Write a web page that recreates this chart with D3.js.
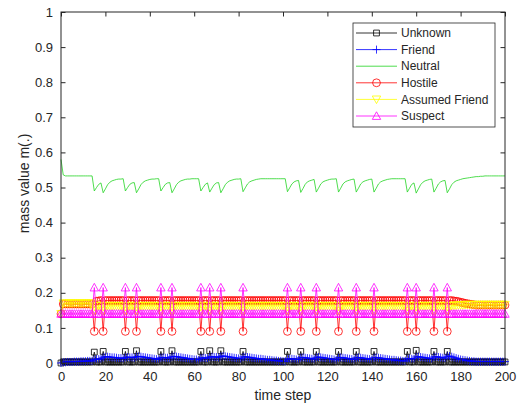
<!DOCTYPE html>
<html><head><meta charset="utf-8">
<script src="https://cdn.jsdelivr.net/npm/d3@7"></script>
<style>
html,body{margin:0;padding:0;background:#fff;}
svg{display:block;}
text{font-family:"Liberation Sans",Arial,Helvetica,sans-serif;fill:#262626;}
</style></head>
<body>
<svg id="chart" width="518" height="407"></svg>
<script>
// ---- data (time steps 0..200) ----
const xTicks = [0,20,40,60,80,100,120,140,160,180,200];
const yTicks = [0,0.1,0.2,0.3,0.4,0.5,0.6,0.7,0.8,0.9,1];
const seriesNames = ["Unknown","Friend","Neutral","Hostile","Assumed Friend","Suspect"];

const unknownVals = [
0,0.003,0.003,0.003,0.003,0.003,0.003,0.003,0.003,0.003,
0.003,0.003,0.003,0.003,0.003,0.031,0.003,0.003,0.003,0.033,
0.003,0.003,0.003,0.003,0.003,0.003,0.003,0.003,0.003,0.033,
0.003,0.003,0.003,0.003,0.035,0.003,0.003,0.003,0.003,0.003,
0.003,0.003,0.003,0.003,0.003,0.033,0.003,0.003,0.003,0.003,
0.035,0.003,0.003,0.003,0.003,0.003,0.003,0.003,0.003,0.003,
0.003,0.003,0.003,0.033,0.003,0.003,0.003,0.035,0.003,0.003,
0.003,0.003,0.035,0.003,0.003,0.003,0.003,0.003,0.003,0.003,
0.003,0.003,0.033,0.003,0.003,0.003,0.003,0.003,0.003,0.003,
0.003,0.003,0.003,0.003,0.003,0.003,0.003,0.003,0.003,0.003,
0.003,0.003,0.033,0.003,0.003,0.003,0.003,0.003,0.033,0.003,
0.003,0.003,0.003,0.003,0.003,0.033,0.003,0.003,0.003,0.003,
0.003,0.003,0.003,0.003,0.003,0.033,0.003,0.003,0.003,0.003,
0.003,0.003,0.003,0.033,0.003,0.003,0.003,0.003,0.003,0.003,
0.003,0.033,0.003,0.003,0.003,0.003,0.003,0.003,0.003,0.003,
0.003,0.003,0.003,0.003,0.003,0.003,0.033,0.003,0.003,0.003,
0.036,0.003,0.003,0.003,0.003,0.003,0.003,0.003,0.033,0.003,
0.003,0.003,0.003,0.003,0.033,0.003,0.003,0.003,0.003,0.003,
0.003,0.003,0.003,0.003,0.003,0.003,0.003,0.003,0.003,0.003,
0.003,0.003,0.003,0.003,0.003,0.003,0.003,0.003,0.003,0.003,
0.003
];

const friendVals = [
0,0.002,0.002,0.003,0.003,0.003,0.004,0.004,0.004,0.005,
0.005,0.005,0.006,0.006,0.006,0.010,0.011,0.011,0.012,0.016,
0.018,0.018,0.017,0.016,0.016,0.015,0.014,0.014,0.013,0.016,
0.017,0.016,0.016,0.015,0.018,0.019,0.018,0.017,0.016,0.015,
0.014,0.013,0.012,0.011,0.011,0.015,0.016,0.015,0.015,0.014,
0.018,0.019,0.018,0.017,0.016,0.015,0.014,0.013,0.012,0.011,
0.010,0.010,0.009,0.014,0.015,0.014,0.014,0.017,0.018,0.017,
0.017,0.016,0.019,0.020,0.019,0.018,0.017,0.016,0.015,0.014,
0.013,0.012,0.017,0.018,0.017,0.016,0.015,0.014,0.013,0.012,
0.012,0.011,0.010,0.009,0.009,0.008,0.007,0.007,0.006,0.006,
0.005,0.005,0.011,0.012,0.012,0.011,0.010,0.010,0.015,0.016,
0.015,0.014,0.013,0.012,0.011,0.016,0.017,0.016,0.015,0.014,
0.013,0.012,0.011,0.010,0.009,0.015,0.016,0.015,0.014,0.013,
0.012,0.011,0.010,0.015,0.016,0.015,0.014,0.013,0.012,0.011,
0.010,0.015,0.016,0.015,0.014,0.013,0.012,0.011,0.010,0.009,
0.009,0.008,0.007,0.007,0.006,0.006,0.012,0.013,0.012,0.012,
0.017,0.018,0.017,0.016,0.015,0.014,0.013,0.012,0.017,0.018,
0.017,0.016,0.015,0.014,0.019,0.020,0.018,0.016,0.014,0.012,
0.010,0.009,0.008,0.007,0.006,0.005,0.005,0.004,0.004,0.004,
0.004,0.004,0.004,0.004,0.004,0.004,0.004,0.004,0.004,0.004,
0.004
];

const neutralVals = [
0.58,0.536,0.533,0.533,0.533,0.533,0.533,0.533,0.533,0.533,
0.533,0.533,0.533,0.533,0.533,0.49,0.5,0.509,0.513,0.485,
0.496,0.508,0.515,0.519,0.521,0.523,0.524,0.524,0.525,0.49,
0.5,0.509,0.513,0.514,0.485,0.496,0.508,0.515,0.519,0.521,
0.523,0.524,0.524,0.525,0.525,0.49,0.5,0.509,0.513,0.514,
0.485,0.496,0.508,0.515,0.519,0.521,0.523,0.524,0.524,0.525,
0.525,0.525,0.525,0.49,0.5,0.509,0.513,0.487,0.498,0.508,
0.513,0.514,0.485,0.496,0.508,0.515,0.519,0.521,0.523,0.524,
0.524,0.525,0.488,0.499,0.51,0.516,0.519,0.521,0.523,0.524,
0.525,0.525,0.525,0.525,0.525,0.525,0.525,0.525,0.525,0.525,
0.525,0.525,0.488,0.499,0.51,0.516,0.519,0.52,0.486,0.497,
0.509,0.516,0.519,0.521,0.523,0.487,0.498,0.51,0.516,0.519,
0.521,0.523,0.524,0.524,0.525,0.487,0.498,0.51,0.516,0.519,
0.521,0.523,0.524,0.487,0.498,0.51,0.516,0.519,0.521,0.523,
0.524,0.487,0.498,0.51,0.516,0.519,0.521,0.523,0.524,0.525,
0.525,0.525,0.525,0.525,0.525,0.525,0.487,0.498,0.509,0.513,
0.484,0.496,0.508,0.515,0.519,0.521,0.523,0.524,0.487,0.498,
0.51,0.516,0.519,0.52,0.485,0.496,0.508,0.515,0.519,0.521,
0.523,0.525,0.526,0.527,0.528,0.529,0.53,0.531,0.531,0.532,
0.532,0.533,0.533,0.533,0.533,0.533,0.533,0.533,0.533,0.533,
0.533
];

const hostileVals = [
0.14,0.168,0.168,0.168,0.168,0.168,0.168,0.168,0.168,0.168,
0.168,0.168,0.168,0.168,0.168,0.09,0.176,0.177,0.178,0.09,
0.178,0.178,0.178,0.178,0.178,0.178,0.178,0.178,0.178,0.09,
0.178,0.178,0.178,0.178,0.09,0.178,0.178,0.178,0.178,0.178,
0.178,0.178,0.178,0.178,0.178,0.09,0.178,0.178,0.178,0.178,
0.09,0.178,0.178,0.178,0.178,0.178,0.178,0.178,0.178,0.178,
0.178,0.178,0.178,0.09,0.178,0.178,0.178,0.09,0.178,0.178,
0.178,0.178,0.09,0.178,0.178,0.178,0.178,0.178,0.178,0.178,
0.178,0.178,0.09,0.178,0.178,0.178,0.178,0.178,0.178,0.178,
0.178,0.178,0.178,0.178,0.178,0.178,0.178,0.178,0.178,0.178,
0.178,0.178,0.09,0.178,0.178,0.178,0.178,0.178,0.09,0.178,
0.178,0.178,0.178,0.178,0.178,0.09,0.178,0.178,0.178,0.178,
0.178,0.178,0.178,0.178,0.178,0.09,0.178,0.178,0.178,0.178,
0.178,0.178,0.178,0.09,0.178,0.178,0.178,0.178,0.178,0.178,
0.178,0.09,0.178,0.178,0.178,0.178,0.178,0.178,0.178,0.178,
0.178,0.178,0.178,0.178,0.178,0.178,0.09,0.178,0.178,0.178,
0.09,0.178,0.178,0.178,0.178,0.178,0.178,0.178,0.09,0.178,
0.178,0.178,0.178,0.178,0.09,0.178,0.178,0.177,0.176,0.175,
0.173,0.172,0.170,0.169,0.168,0.167,0.166,0.165,0.165,0.165,
0.165,0.165,0.165,0.165,0.165,0.165,0.165,0.165,0.165,0.165,
0.165
];

const assumedFriendVals = [
0.14,0.17,0.17,0.17,0.17,0.17,0.17,0.17,0.17,0.17,
0.17,0.17,0.17,0.17,0.17,0.148,0.163,0.163,0.163,0.148,
0.163,0.163,0.163,0.163,0.163,0.163,0.163,0.163,0.163,0.148,
0.163,0.163,0.163,0.163,0.148,0.163,0.163,0.163,0.163,0.163,
0.163,0.163,0.163,0.163,0.163,0.148,0.163,0.163,0.163,0.163,
0.148,0.163,0.163,0.163,0.163,0.163,0.163,0.163,0.163,0.163,
0.163,0.163,0.163,0.148,0.163,0.163,0.163,0.148,0.163,0.163,
0.163,0.163,0.148,0.163,0.163,0.163,0.163,0.163,0.163,0.163,
0.163,0.163,0.148,0.163,0.163,0.163,0.163,0.163,0.163,0.163,
0.163,0.163,0.163,0.163,0.163,0.163,0.163,0.163,0.163,0.163,
0.163,0.163,0.148,0.163,0.163,0.163,0.163,0.163,0.148,0.163,
0.163,0.163,0.163,0.163,0.163,0.148,0.163,0.163,0.163,0.163,
0.163,0.163,0.163,0.163,0.163,0.148,0.163,0.163,0.163,0.163,
0.163,0.163,0.163,0.148,0.163,0.163,0.163,0.163,0.163,0.163,
0.163,0.148,0.163,0.163,0.163,0.163,0.163,0.163,0.163,0.163,
0.163,0.163,0.163,0.163,0.163,0.163,0.148,0.163,0.163,0.163,
0.148,0.163,0.163,0.163,0.163,0.163,0.163,0.163,0.148,0.163,
0.163,0.163,0.163,0.163,0.148,0.163,0.163,0.164,0.164,0.165,
0.165,0.165,0.166,0.166,0.166,0.166,0.166,0.166,0.166,0.166,
0.166,0.166,0.166,0.166,0.166,0.166,0.166,0.166,0.166,0.166,
0.166
];

const suspectVals = [
0.14,0.14,0.14,0.14,0.14,0.14,0.14,0.14,0.14,0.14,
0.14,0.14,0.14,0.14,0.14,0.215,0.14,0.14,0.14,0.215,
0.14,0.14,0.14,0.14,0.14,0.14,0.14,0.14,0.14,0.215,
0.14,0.14,0.14,0.14,0.215,0.14,0.14,0.14,0.14,0.14,
0.14,0.14,0.14,0.14,0.14,0.215,0.14,0.14,0.14,0.14,
0.215,0.14,0.14,0.14,0.14,0.14,0.14,0.14,0.14,0.14,
0.14,0.14,0.14,0.215,0.14,0.14,0.14,0.215,0.14,0.14,
0.14,0.14,0.215,0.14,0.14,0.14,0.14,0.14,0.14,0.14,
0.14,0.14,0.215,0.14,0.14,0.14,0.14,0.14,0.14,0.14,
0.14,0.14,0.14,0.14,0.14,0.14,0.14,0.14,0.14,0.14,
0.14,0.14,0.215,0.14,0.14,0.14,0.14,0.14,0.215,0.14,
0.14,0.14,0.14,0.14,0.14,0.215,0.14,0.14,0.14,0.14,
0.14,0.14,0.14,0.14,0.14,0.215,0.14,0.14,0.14,0.14,
0.14,0.14,0.14,0.215,0.14,0.14,0.14,0.14,0.14,0.14,
0.14,0.215,0.14,0.14,0.14,0.14,0.14,0.14,0.14,0.14,
0.14,0.14,0.14,0.14,0.14,0.14,0.215,0.14,0.14,0.14,
0.215,0.14,0.14,0.14,0.14,0.14,0.14,0.14,0.215,0.14,
0.14,0.14,0.14,0.14,0.215,0.14,0.14,0.14,0.14,0.14,
0.14,0.14,0.14,0.14,0.14,0.14,0.14,0.14,0.14,0.14,
0.14,0.14,0.14,0.14,0.14,0.14,0.14,0.14,0.14,0.14,
0.14
];

// ---- drawing ----
const svg = d3.select("#chart");
const L = 61, R = 505, T = 12, B = 363;
const x = d3.scaleLinear().domain([0,200]).range([L,R]);
const y = d3.scaleLinear().domain([0,1]).range([B,T]);

const markerPaths = {
  square: "M-2.9,-2.9H2.9V2.9H-2.9Z",
  plus: "M-4,0H4M0,-4V4",
  none: null,
  circle: d3.symbol(d3.symbolCircle, Math.PI*3.9*3.9)(),
  triDown: "M-4.2,-3.4L4.2,-3.4L0,4.2Z",
  triUp: "M-4.2,3.4L4.2,3.4L0,-4.2Z"
};
const series = [
  {name:seriesNames[0], vals:unknownVals, color:"#000000", marker:"square"},
  {name:seriesNames[1], vals:friendVals, color:"#0000ff", marker:"plus"},
  {name:seriesNames[2], vals:neutralVals, color:"#22d422", marker:"none"},
  {name:seriesNames[3], vals:hostileVals, color:"#ff0000", marker:"circle"},
  {name:seriesNames[4], vals:assumedFriendVals, color:"#ffff00", marker:"triDown"},
  {name:seriesNames[5], vals:suspectVals, color:"#ff00ff", marker:"triUp"}
];

const line = d3.line().x((d,i)=>x(i)).y(d=>y(d));
const plot = svg.append("g");
series.forEach(s=>{
  const g = plot.append("g");
  g.append("path").attr("d", line(s.vals)).attr("fill","none")
    .attr("stroke", s.color).attr("stroke-width", 0.8);
  if (markerPaths[s.marker]) {
    g.selectAll("path.m").data(s.vals).join("path").attr("class","m")
      .attr("d", markerPaths[s.marker])
      .attr("transform",(d,i)=>`translate(${x(i)},${y(d)})`)
      .attr("fill","none").attr("stroke", s.color).attr("stroke-width",0.8);
  }
});

// axes box
const axisColor = "#262626";
svg.append("rect").attr("x",L).attr("y",T).attr("width",R-L).attr("height",B-T)
  .attr("fill","none").attr("stroke",axisColor).attr("stroke-width",1);

const xAxis = svg.append("g").attr("transform",`translate(0,${B})`)
  .call(d3.axisBottom(x).tickValues(xTicks).tickSize(-4.5).tickPadding(9).tickFormat(d3.format("d")));
const xAxisTop = svg.append("g").attr("transform",`translate(0,${T})`)
  .call(d3.axisTop(x).tickValues(xTicks).tickSize(-4.5).tickFormat(""));
const yAxis = svg.append("g").attr("transform",`translate(${L},0)`)
  .call(d3.axisLeft(y).tickValues(yTicks).tickSize(-4.5).tickPadding(8).tickFormat(d=>d3.format("")(+d.toFixed(1))));
const yAxisRight = svg.append("g").attr("transform",`translate(${R},0)`)
  .call(d3.axisRight(y).tickValues(yTicks).tickSize(-4.5).tickFormat(""));
[xAxis,xAxisTop,yAxis,yAxisRight].forEach(a=>{
  a.select(".domain").remove();
  a.selectAll(".tick line").attr("stroke",axisColor);
  a.selectAll("text").attr("font-size","13px").attr("font-family","Liberation Sans, Arial, sans-serif").attr("fill","#404040");
});

svg.append("text").attr("x",(L+R)/2).attr("y",400).attr("text-anchor","middle")
  .attr("font-size","14px").attr("fill","#404040").text("time step");
svg.append("text").attr("transform",`translate(29,${(T+B)/2-4}) rotate(-90)`).attr("text-anchor","middle")
  .attr("font-size","14px").attr("fill","#404040").text("mass value m(.)");

// legend
const lg = svg.append("g");
const lx = 353, ly = 23, lw = 142, lh = 104;
lg.append("rect").attr("x",lx).attr("y",ly).attr("width",lw).attr("height",lh)
  .attr("fill","#fff").attr("stroke",axisColor).attr("stroke-width",0.8);
series.forEach((s,i)=>{
  const cy = 33 + i*16.6;
  lg.append("line").attr("x1",356).attr("x2",397).attr("y1",cy).attr("y2",cy)
    .attr("stroke",s.color).attr("stroke-width",0.8);
  if (markerPaths[s.marker]) {
    lg.append("path").attr("d",markerPaths[s.marker]).attr("transform",`translate(376.5,${cy})`)
      .attr("fill","none").attr("stroke",s.color).attr("stroke-width",0.8);
  }
  lg.append("text").attr("x",401).attr("y",cy).attr("dy","0.35em")
    .attr("font-size","12px").attr("fill","#262626").text(s.name);
});
</script>
</body></html>
